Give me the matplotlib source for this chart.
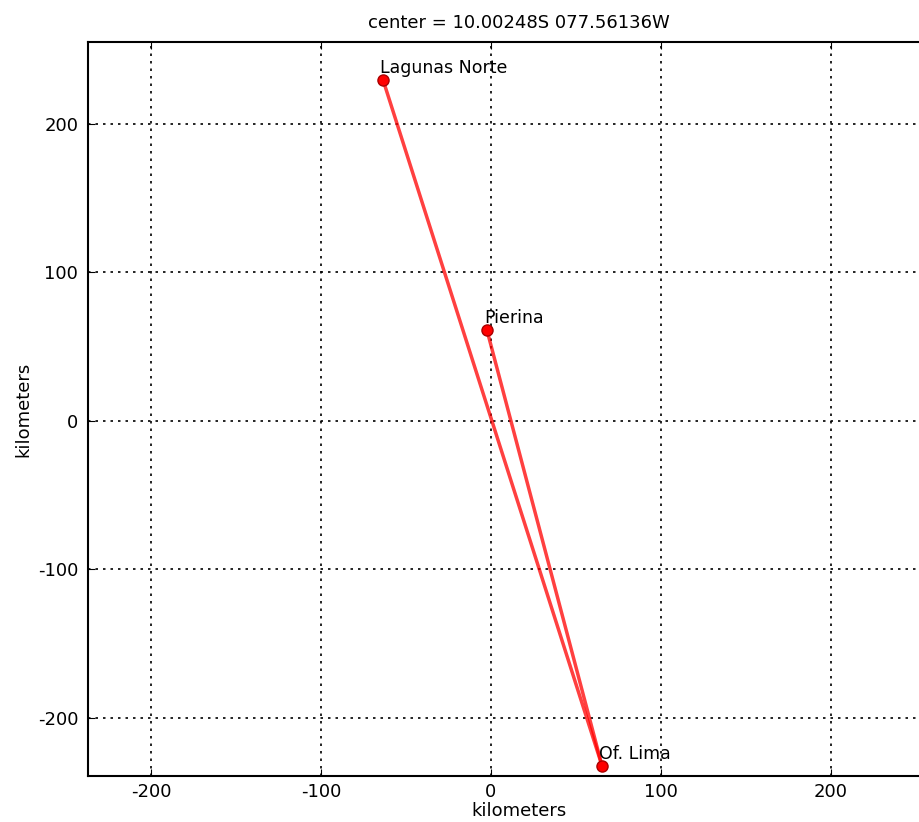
import matplotlib
matplotlib.use('Agg')
import matplotlib.pyplot as plt

plt.rcParams['axes.unicode_minus'] = False

# site positions in km relative to the center
names = ['Lagunas Norte', 'Pierina', 'Of. Lima']
xs = [-63.5, -2.4, 65.3]
ys = [229.6, 61.3, -232.0]
hub = 2   # Of. Lima, lines go out from here

W, H = 920, 822
fig = plt.figure(figsize=(W/100., H/100.), dpi=100)
x0, x1 = 88, 950
y0, y1 = 42, 776
ax = fig.add_axes([x0/float(W), 1-y1/float(H), (x1-x0)/float(W), (y1-y0)/float(H)])

for i in range(len(names)):
    if i == hub:
        continue
    ax.plot([xs[i], xs[hub]], [ys[i], ys[hub]], '-', color='red', alpha=0.75, lw=2.5, zorder=2)
ax.plot(xs, ys, 'o', color='red', mec='#aa0000', ms=8, zorder=3)
for n, x, y in zip(names, xs, ys):
    ax.text(x - 1.5, y + 2, n, fontsize=12.5, ha='left', va='bottom', zorder=4)

ax.set_xlim(-237, (x1-491)/1.7)
ax.set_ylim(-239, 255)
ax.set_xticks([-200, -100, 0, 100, 200])
ax.set_yticks([-200, -100, 0, 100, 200])
ax.tick_params(direction='in', top=True, right=True, labelsize=13, length=5, pad=7)
ax.tick_params(axis='x', pad=5)
ax.grid(True, color='black', linestyle=(0, (1.5, 3)), linewidth=1.2)
for s in ax.spines.values():
    s.set_linewidth(1.5)
ax.set_xlabel('kilometers', fontsize=13, labelpad=1)
ax.set_ylabel('kilometers', fontsize=13, labelpad=4)
ax.set_title('center = 10.00248S 077.56136W', fontsize=13, pad=10)

fig.savefig('out.png', dpi=100)
